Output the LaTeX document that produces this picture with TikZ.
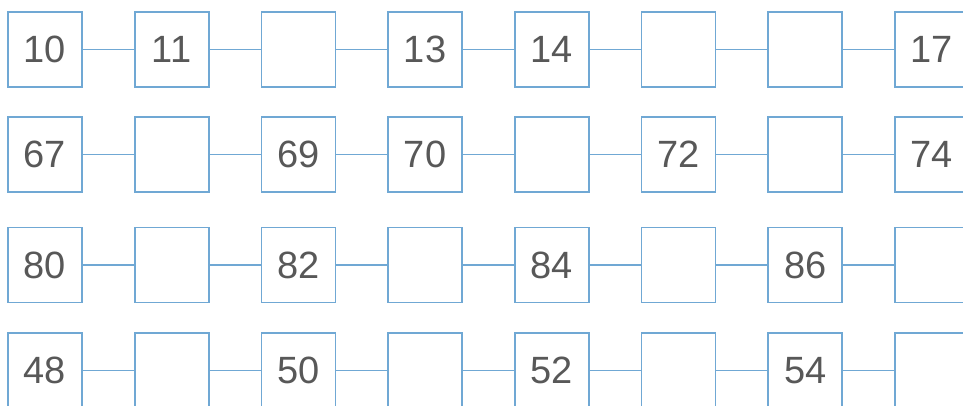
\documentclass[tikz,border=0pt]{standalone}
\usepackage{fontspec}
\setmainfont{Liberation Sans}
\definecolor{boxblue}{RGB}{112,168,212}
\definecolor{numgray}{RGB}{88,88,88}
\tikzset{
  cell/.style={draw=boxblue, line width=1.6pt, fill=white, minimum width=74pt, minimum height=75pt, inner sep=0pt, text=numgray, font=\fontsize{38}{40}\selectfont},
  link/.style={draw=boxblue, line width=1.6pt}
}
\begin{document}
\begin{tikzpicture}[x=1pt,y=-1pt]
\useasboundingbox (0,0) rectangle (963,405);
\fill[white] (0,0) rectangle (963,405);
\foreach \r/\yy/\labels in {
  1/49.5/{10,11,,13,14,,,17},
  2/154.5/{67,,69,70,,72,,74},
  3/265/{80,,82,,84,,86,},
  4/370.5/{48,,50,,52,,54,}}{
  \foreach \t [count=\c] in \labels {
    \node[cell] (b\r-\c) at ({45+126.7*(\c-1)},\yy) {\t};
  }
  \foreach \c [evaluate=\c as \n using int(\c+1)] in {1,...,7}{
    \draw[link] (b\r-\c.east) -- (b\r-\n.west);
  }
}
\end{tikzpicture}
\end{document}
